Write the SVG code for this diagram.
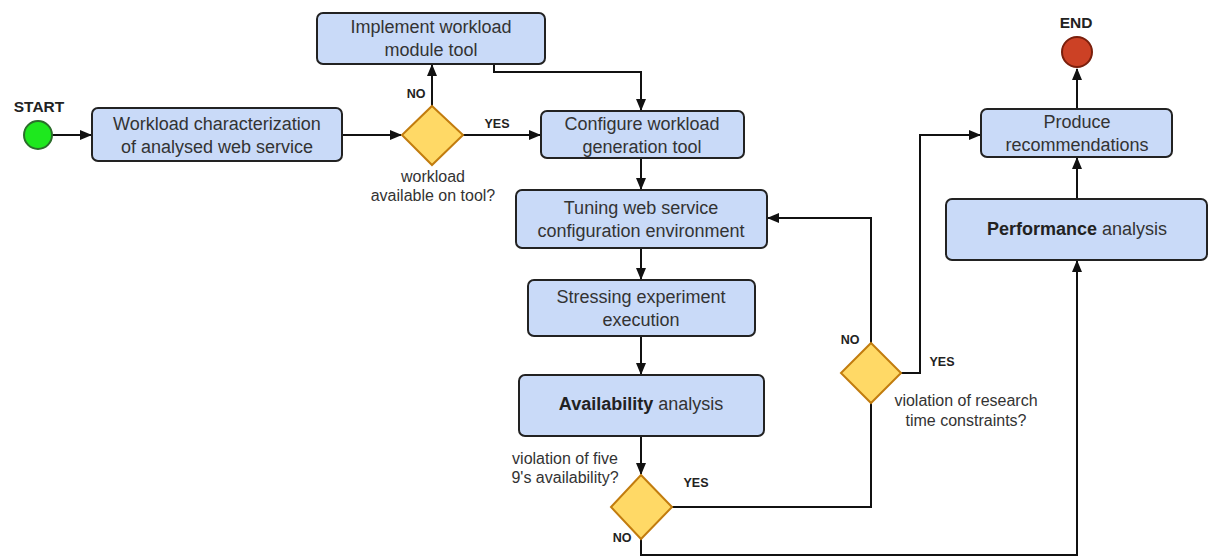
<svg xmlns="http://www.w3.org/2000/svg" width="1208" height="557" viewBox="0 0 1208 557">
<style>
.box{fill:#c9daf8;stroke:#222;stroke-width:2}
.dia{fill:#ffd966;stroke:#c27c0e;stroke-width:2}
.t{font-family:"Liberation Sans",Arial,sans-serif;font-size:18px;fill:#333;text-anchor:middle}
.l{font-family:"Liberation Sans",Arial,sans-serif;font-size:16px;fill:#333;text-anchor:middle}
.k{font-family:"Liberation Sans",Arial,sans-serif;font-size:12.5px;font-weight:bold;fill:#222;text-anchor:middle}
.s{font-family:"Liberation Sans",Arial,sans-serif;font-size:15.5px;font-weight:bold;fill:#222;text-anchor:middle}
.c{fill:none;stroke:#111;stroke-width:2}
</style>
<defs>
<marker id="a" markerWidth="12" markerHeight="10" refX="11" refY="5" orient="auto" markerUnits="userSpaceOnUse">
<path d="M0,0 L12,5 L0,10 z" fill="#111"/>
</marker>
</defs>
<g id="connectors">
<path class="c" d="M52,135 H91" marker-end="url(#a)"/>
<path class="c" d="M342,135 H401" marker-end="url(#a)"/>
<path class="c" d="M432,106 V65" marker-end="url(#a)"/>
<path class="c" d="M463,135 H540" marker-end="url(#a)"/>
<path class="c" d="M494,64 V72 H641 V110" marker-end="url(#a)"/>
<path class="c" d="M641,158 V189" marker-end="url(#a)"/>
<path class="c" d="M641,248 V279" marker-end="url(#a)"/>
<path class="c" d="M641,336 V374" marker-end="url(#a)"/>
<path class="c" d="M641,436 V474" marker-end="url(#a)"/>
<path class="c" d="M672,507 H871 V403"/>
<path class="c" d="M871,343 V218 H768" marker-end="url(#a)"/>
<path class="c" d="M901,373 H920 V135 H980" marker-end="url(#a)"/>
<path class="c" d="M641,539 V555 H1077 V261" marker-end="url(#a)"/>
<path class="c" d="M1077,199 V158" marker-end="url(#a)"/>
<path class="c" d="M1077,109 V69" marker-end="url(#a)"/>
<text class="k" x="416" y="98">NO</text>
<text class="k" x="497" y="128">YES</text>
<text class="k" x="850" y="344">NO</text>
<text class="k" x="942" y="366">YES</text>
<text class="k" x="696" y="487">YES</text>
<text class="k" x="622" y="542">NO</text>
</g>
<g id="start"><circle cx="38" cy="135" r="14" fill="#1ee81e" stroke="#2b6e2b" stroke-width="2"/><text class="s" x="39" y="112">START</text></g>
<g id="end"><circle cx="1077" cy="52" r="15" fill="#cc4125" stroke="#7a1f0c" stroke-width="2"/><text class="s" x="1076" y="28">END</text></g>
<g id="n1"><rect class="box" x="92" y="108" width="250" height="53" rx="6"/><text class="t" x="217" y="130">Workload characterization</text><text class="t" x="217" y="153">of analysed web service</text></g>
<g id="d1"><path class="dia" d="M432,106 L463,135 L432,165 L402,135 z"/><text class="l" x="433" y="182">workload</text><text class="l" x="433" y="201">available on tool?</text></g>
<g id="n2"><rect class="box" x="317" y="13" width="228" height="51" rx="6"/><text class="t" x="431" y="33">Implement workload</text><text class="t" x="431" y="56">module tool</text></g>
<g id="n3"><rect class="box" x="541" y="111" width="203" height="47" rx="6"/><text class="t" x="642" y="130">Configure workload</text><text class="t" x="642" y="153">generation tool</text></g>
<g id="n4"><rect class="box" x="516" y="190" width="251" height="58" rx="6"/><text class="t" x="641" y="214">Tuning web service</text><text class="t" x="641" y="237">configuration environment</text></g>
<g id="n5"><rect class="box" x="528" y="280" width="227" height="56" rx="6"/><text class="t" x="641" y="303">Stressing experiment</text><text class="t" x="641" y="326">execution</text></g>
<g id="n6"><rect class="box" x="519" y="375" width="245" height="61" rx="6"/><text class="t" x="641" y="410"><tspan font-weight="bold" fill="#222">Availability</tspan> analysis</text></g>
<g id="d3"><path class="dia" d="M641,475 L672,507 L641,539 L611,507 z"/><text class="l" x="565" y="464">violation of five</text><text class="l" x="565" y="483">9's availability?</text></g>
<g id="d2"><path class="dia" d="M871,343 L901,373 L871,403 L841,373 z"/><text class="l" x="966" y="406">violation of research</text><text class="l" x="966" y="426">time constraints?</text></g>
<g id="n7"><rect class="box" x="981" y="109" width="191" height="48" rx="6"/><text class="t" x="1077" y="128">Produce</text><text class="t" x="1077" y="151">recommendations</text></g>
<g id="n8"><rect class="box" x="946" y="199" width="261" height="61" rx="6"/><text class="t" x="1077" y="235"><tspan font-weight="bold" fill="#222">Performance</tspan> analysis</text></g>
</svg>
